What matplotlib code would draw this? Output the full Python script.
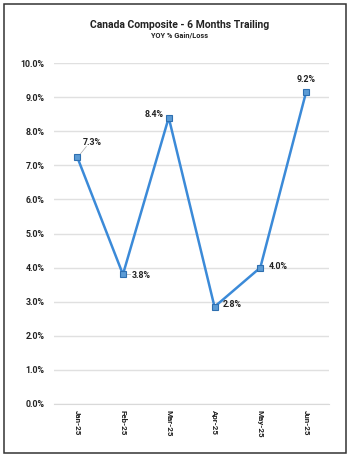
import matplotlib

matplotlib.use("Agg")
import matplotlib.pyplot as plt
from matplotlib.patches import Rectangle

plt.rcParams["font.family"] = ["Roboto", "DejaVu Sans"]

months = ["Jan-25", "Feb-25", "Mar-25", "Apr-25", "May-25", "Jun-25"]
values = [7.25, 3.80, 8.40, 2.85, 4.00, 9.15]
labels = ["7.3%", "3.8%", "8.4%", "2.8%", "4.0%", "9.2%"]
# label offsets in points (dx, dy) and alignment
offsets = [(4, 10), (6, -1), (-4, 2), (6, 2), (6, 1), (0, 9)]
aligns = ["left", "left", "right", "left", "left", "center"]

LINE = "#3b8ad8"
TEXT = "#222222"

fig = plt.figure(figsize=(3.5, 4.57), dpi=100)
fig.patches.append(Rectangle((0.011, 0.008), 0.977, 0.983, transform=fig.transFigure,
                             fill=False, edgecolor="#333333", linewidth=1.1))
ax = fig.add_axes([0.155, 0.116, 0.785, 0.746])

x = list(range(len(months)))
ax.plot(x, values, color=LINE, linewidth=1.8, marker="s", markersize=5,
        markerfacecolor="#5b9bd5", markeredgecolor="#2e6fb0", markeredgewidth=0.8, zorder=3)

for i, (v, t) in enumerate(zip(values, labels)):
    dx, dy = offsets[i]
    ax.annotate(t, (i, v), xytext=(dx, dy), textcoords="offset points",
                ha=aligns[i], va="center", fontsize=6.3, fontweight="bold", color=TEXT)
# small leader lines like the original
ax.plot([0.05, 0.2], [7.3, 7.55], color="#aaaaaa", linewidth=0.5)
ax.plot([1.07, 1.15], [3.8, 3.8], color="#aaaaaa", linewidth=0.5)
ax.plot([3.05, 3.12], [2.95, 3.0], color="#aaaaaa", linewidth=0.5)

ax.set_xlim(-0.5, len(months) - 0.5)
ax.set_ylim(0, 10)
ax.set_yticks([i for i in range(11)])
ax.set_yticklabels([f"{i:.1f}%" for i in range(11)], fontsize=6.3, fontweight="bold", color=TEXT)
ax.set_xticks(x)
ax.set_xticklabels(months, rotation=-90, fontsize=5.8, fontweight="bold", color=TEXT)
ax.tick_params(axis="y", length=0, pad=7)
ax.tick_params(axis="x", length=0, pad=4)
ax.yaxis.grid(True, color="#e0e0e0", linewidth=1.0)
ax.set_axisbelow(True)
for s in ["top", "right", "left"]:
    ax.spines[s].set_visible(False)
ax.spines["bottom"].set_color("#d9d9d9")

fig.text(0.512, 0.945, "Canada Composite - 6 Months Trailing", ha="center", va="center",
         fontsize=7.5, fontweight="bold", color=TEXT)
fig.text(0.512, 0.922, "YOY % Gain/Loss", ha="center", va="center",
         fontsize=5.3, fontweight="bold", color=TEXT)

fig.savefig("out.png", dpi=100)
